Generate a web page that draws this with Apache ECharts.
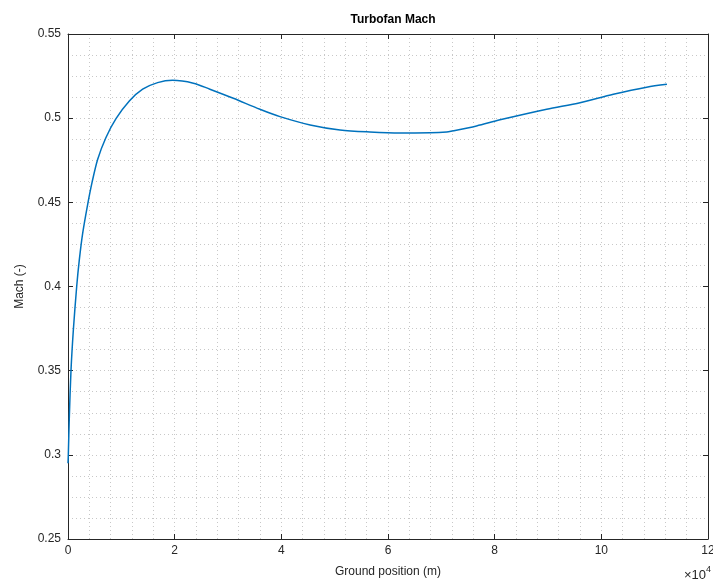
<!DOCTYPE html>
<html>
<head>
<meta charset="utf-8">
<script src="https://cdn.jsdelivr.net/npm/echarts@6/dist/echarts.min.js"></script>
<style>html,body{margin:0;padding:0;background:#fff;}#c{width:713px;height:581px;}</style>
</head>
<body>
<div id="c"></div>
<script>
const groundPosition = [0, 60, 250, 560, 1000, 1630, 2120, 2750, 3700, 4500, 5570, 7100, 9000, 11500, 14000, 16800, 19600, 23500, 26600, 31000, 36000, 39750, 45400, 51000, 56600, 62250, 67900, 71000, 71800, 76600, 81000, 89750, 96000, 102250, 108500, 112300];
const machValues = [0.295, 0.300, 0.3227, 0.350, 0.374, 0.400, 0.4158, 0.4316, 0.449, 0.4617, 0.4756, 0.4884, 0.4997, 0.5102, 0.5172, 0.5211, 0.5225, 0.5208, 0.5172, 0.5118, 0.5053, 0.5009, 0.4960, 0.4930, 0.4918, 0.4912, 0.4914, 0.4918, 0.4922, 0.4954, 0.4990, 0.5053, 0.5092, 0.5142, 0.5184, 0.5201];
const titleText = 'Turbofan Mach';
const xLabel = 'Ground position (m)';
const yLabel = 'Mach (-)';

const chart = echarts.init(document.getElementById('c'), null, {renderer: 'canvas'});
const axisColor = '#262626';
const gridColor = '#c8c8c8';
const font = 'Liberation Sans, Arial, sans-serif';
const data = groundPosition.map((x, i) => [x, machValues[i]]);

const splitStyle = {show: true, lineStyle: {color: gridColor, type: [1, 3], width: 1}};
chart.setOption({
  animation: false,
  title: {text: titleText, left: 388, top: 9, textAlign: 'center',
    textStyle: {fontFamily: font, fontSize: 12, fontWeight: 'bold', color: '#000'}},
  grid: {left: 68, right: 5, top: 34, bottom: 42, outerBoundsMode: 'none', containLabel: false},
  xAxis: [{
    type: 'value', min: 0, max: 120000, interval: 20000, position: 'bottom',
    axisLine: {show: true, onZero: false, lineStyle: {color: axisColor, width: 1}},
    axisTick: {show: true, inside: true, length: 5, lineStyle: {color: axisColor}},
    axisLabel: {color: axisColor, fontFamily: font, fontSize: 12, margin: 6,
      formatter: v => String(Math.round(v / 10000))},
    splitLine: splitStyle,
    minorTick: {show: false, splitNumber: 5},
    minorSplitLine: splitStyle,
    name: xLabel, nameLocation: 'middle', nameGap: 27,
    nameTextStyle: {color: axisColor, fontFamily: font, fontSize: 12}
  }, {
    type: 'value', min: 0, max: 120000, interval: 20000, position: 'top',
    axisLine: {show: true, onZero: false, lineStyle: {color: axisColor, width: 1}},
    axisTick: {show: true, inside: true, length: 5, lineStyle: {color: axisColor}},
    axisLabel: {show: false}, splitLine: {show: false}
  }],
  yAxis: [{
    type: 'value', min: 0.25, max: 0.55, interval: 0.05, position: 'left',
    axisLine: {show: true, onZero: false, lineStyle: {color: axisColor, width: 1}},
    axisTick: {show: true, inside: true, length: 5, lineStyle: {color: axisColor}},
    axisLabel: {color: axisColor, fontFamily: font, fontSize: 12, margin: 7,
      formatter: v => String(parseFloat(v.toFixed(2)))},
    splitLine: splitStyle,
    minorTick: {show: false, splitNumber: 4},
    minorSplitLine: splitStyle,
    name: yLabel, nameLocation: 'middle', nameGap: 42, nameRotate: 90,
    nameTextStyle: {color: axisColor, fontFamily: font, fontSize: 12}
  }, {
    type: 'value', min: 0.25, max: 0.55, interval: 0.05, position: 'right',
    axisLine: {show: true, onZero: false, lineStyle: {color: axisColor, width: 1}},
    axisTick: {show: true, inside: true, length: 5, lineStyle: {color: axisColor}},
    axisLabel: {show: false}, splitLine: {show: false}
  }],
  graphic: [{
    type: 'text', right: 2, top: 565,
    style: {
      text: '{a|×10}{b|4}',
      rich: {
        a: {fontFamily: font, fontSize: 13, fill: axisColor, verticalAlign: 'bottom'},
        b: {fontFamily: font, fontSize: 9, fill: axisColor, verticalAlign: 'top', padding: [0, 0, 8, 0]}
      }
    }
  }],
  series: [{
    type: 'line', data: data, xAxisIndex: 0, yAxisIndex: 0,
    showSymbol: false, smooth: 0.3,
    lineStyle: {color: '#0072BD', width: 1.5}
  }]
});
</script>
</body>
</html>
